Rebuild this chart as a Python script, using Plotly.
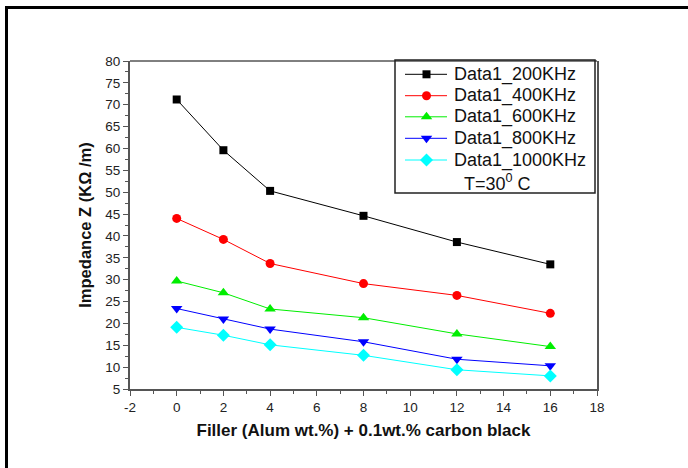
import plotly.graph_objects as go

filler = [0, 2, 4, 8, 12, 16]
z_200 = [71.2, 59.6, 50.3, 44.6, 38.6, 33.5]
z_400 = [44.0, 39.2, 33.7, 29.1, 26.4, 22.3]
z_600 = [29.7, 27.0, 23.3, 21.3, 17.6, 14.7]
z_800 = [23.4, 21.0, 18.7, 15.8, 11.8, 10.3]
z_1000 = [19.1, 17.3, 15.1, 12.7, 9.4, 8.0]

x_ticks = [-2, 0, 2, 4, 6, 8, 10, 12, 14, 16, 18]
x_tick_labels = ["-2", "0", "2", "4", "6", "8", "10", "12", "14", "16", "18"]

series = [
    ("Data1_200KHz", z_200, "#000000", "square", 8),
    ("Data1_400KHz", z_400, "#ff0000", "circle", 9),
    ("Data1_600KHz", z_600, "#00ee00", "triangle-up", 10),
    ("Data1_800KHz", z_800, "#0000ff", "triangle-down", 10),
    ("Data1_1000KHz", z_1000, "#00ffff", "diamond", 10),
]

FONT = "Arial, Liberation Sans, sans-serif"
W, H = 688, 468
L, R, T, B = 130, 91, 61, 79
pw, ph = W - L - R, H - T - B


def px_x(x):
    return (x - L) / pw


def px_y(y):
    return (H - B - y) / ph


fig = go.Figure()
for name, ys, col, sym, sz in series:
    fig.add_trace(go.Scatter(
        x=filler, y=ys, name=name, mode="lines+markers",
        line=dict(color=col, width=1),
        marker=dict(symbol=sym, size=sz, color=col),
        showlegend=False,
    ))

# legend drawn manually on an overlay axis in paper-like units
leg_rows = [74.3, 95.7, 116.8, 138.3, 160.0]
annotations = []
for (name, ys, col, sym, sz), ry in zip(series, leg_rows):
    fig.add_trace(go.Scatter(
        x=[px_x(405), px_x(447)], y=[px_y(ry), px_y(ry)],
        xaxis="x2", yaxis="y2", mode="lines",
        line=dict(color=col, width=1), showlegend=False, hoverinfo="skip",
    ))
    fig.add_trace(go.Scatter(
        x=[px_x(426.5)], y=[px_y(ry)],
        xaxis="x2", yaxis="y2", mode="markers",
        marker=dict(symbol=sym, size=sz, color=col), showlegend=False,
        hoverinfo="skip",
    ))
    annotations.append(dict(
        text=name, xref="paper", yref="paper",
        x=px_x(452), y=px_y(ry), xanchor="left", yanchor="middle",
        showarrow=False, font=dict(family=FONT, size=18, color="#111"),
    ))

annotations.append(dict(
    text="T=30<sup>0</sup> C", xref="paper", yref="paper",
    x=px_x(462), y=px_y(182), xanchor="left", yanchor="middle",
    showarrow=False, font=dict(family=FONT, size=18, color="#111"),
))

fig.update_layout(
    width=W, height=H,
    margin=dict(l=L, r=R, t=T, b=B),
    paper_bgcolor="white", plot_bgcolor="white",
    font=dict(family=FONT, size=13.5, color="#222"),
    showlegend=False,
    xaxis=dict(
        range=[-2, 18], tickmode="array", tickvals=x_ticks, ticktext=x_tick_labels,
        showgrid=False, zeroline=False,
        showline=True, linecolor="#555", linewidth=2,
        ticks="outside", ticklen=5, tickcolor="#555", tickwidth=1,
        minor=dict(dtick=1, tick0=-2, ticks="outside", ticklen=3, tickcolor="#555"),
        title=dict(text="<b>Filler (Alum wt.%) + 0.1wt.% carbon black</b>",
                   font=dict(size=17, color="#111"), standoff=10),
    ),
    yaxis=dict(
        range=[5, 80], dtick=5, tick0=5,
        showgrid=False, zeroline=False,
        showline=True, linecolor="#555", linewidth=2, mirror=True,
        ticks="outside", ticklen=5, tickcolor="#555", tickwidth=1,
        minor=dict(dtick=2.5, tick0=5, ticks="outside", ticklen=3, tickcolor="#555"),
        title=dict(text="<b>Impedance Z (KΩ /m)</b>",
                   font=dict(size=16.5, color="#111"), standoff=9),
    ),
    xaxis2=dict(overlaying="x", range=[0, 1], visible=False, fixedrange=True),
    yaxis2=dict(overlaying="y", range=[0, 1], visible=False, fixedrange=True),
    shapes=[
        dict(type="line", xref="paper", yref="paper", x0=0, x1=1, y0=1, y1=1,
             line=dict(color="black", width=1)),
        dict(type="rect", xref="paper", yref="paper",
             x0=px_x(395), x1=px_x(595), y0=px_y(193), y1=px_y(60),
             line=dict(color="#222", width=1.5), fillcolor="rgba(0,0,0,0)"),
        dict(type="rect", xref="paper", yref="paper",
             x0=px_x(6.5), x1=px_x(700), y0=px_y(480), y1=px_y(7.5),
             line=dict(color="black", width=3), fillcolor="rgba(0,0,0,0)"),
    ],
    annotations=annotations,
)

fig.write_html("out.html",
               config={"displayModeBar": False},
               post_script="document.body.style.margin='0';document.body.style.overflow='hidden';")
